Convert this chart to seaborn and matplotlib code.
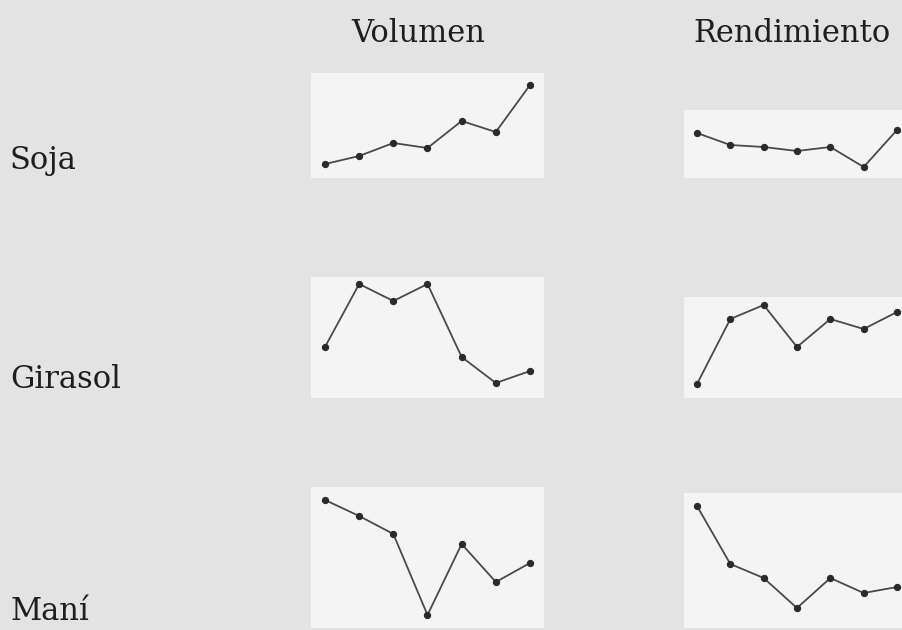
import numpy as np
import pandas as pd
import matplotlib
matplotlib.use("Agg")
import matplotlib.pyplot as plt
import seaborn as sns

# Data (arbitrary units per row)
periods = [1, 2, 3, 4, 5, 6, 7]
crops = ["Soja", "Girasol", "Maní"]
measures = ["Volumen", "Rendimiento"]

soja_volumen = [14, 22, 35, 30, 57, 46, 93]
soja_rendimiento = [45, 33, 31, 27, 31, 11, 48]
girasol_volumen = [51, 114, 97, 114, 41, 15, 27]
girasol_rendimiento = [14, 79, 93, 51, 79, 69, 86]
mani_volumen = [128, 112, 94, 13, 84, 46, 65]
mani_rendimiento = [122, 64, 50, 20, 50, 35, 41]

series = {
    ("Soja", "Volumen"): soja_volumen,
    ("Soja", "Rendimiento"): soja_rendimiento,
    ("Girasol", "Volumen"): girasol_volumen,
    ("Girasol", "Rendimiento"): girasol_rendimiento,
    ("Maní", "Volumen"): mani_volumen,
    ("Maní", "Rendimiento"): mani_rendimiento,
}

rows = []
for (c, m), vals in series.items():
    for p, v in zip(periods, vals):
        rows.append({"cultivo": c, "medida": m, "periodo": p, "valor": v})
df = pd.DataFrame(rows)

sns.set_style("white")
plt.rcParams['font.family'] = ['DejaVu Serif', 'Liberation Serif']

W, H = 903, 630
fig = plt.figure(figsize=(W / 100, H / 100), dpi=100)
fig.patch.set_facecolor("#e3e3e3")

# panel geometry in pixels
col_geom = {"Volumen": (325, 530), "Rendimiento": (697, 897)}
row_base = {"Soja": 178, "Girasol": 398, "Maní": 628}
panel_top = {
    ("Soja", "Volumen"): 73, ("Soja", "Rendimiento"): 110,
    ("Girasol", "Volumen"): 277, ("Girasol", "Rendimiento"): 297,
    ("Maní", "Volumen"): 487, ("Maní", "Rendimiento"): 493,
}
pad = 0.4

for c in crops:
    b = row_base[c]
    for m in measures:
        t = panel_top[(c, m)]
        x0, x1 = col_geom[m]
        step = (x1 - x0) / 6
        left = x0 - pad * step
        width = (6 + 2 * pad) * step
        ax = fig.add_axes([left / W, 1 - b / H, width / W, (b - t) / H])
        ax.set_facecolor("#f4f4f4")
        sub = df[(df.cultivo == c) & (df.medida == m)]
        sns.lineplot(data=sub, x="periodo", y="valor", ax=ax, color="#4a4a4a",
                     linewidth=1.3, marker="o", markersize=4.5,
                     markerfacecolor="#2a2a2a", markeredgecolor="#2a2a2a")
        ax.set_xlim(1 - pad, 7 + pad)
        ax.set_ylim(0, b - t)
        ax.set_xticks([])
        ax.set_yticks([])
        ax.set_xlabel("")
        ax.set_ylabel("")
        for s in ax.spines.values():
            s.set_visible(False)
        for ln in ax.lines:
            ln.set_clip_on(False)

# Column headers
fig.text(418 / W, 1 - 34 / H, "Volumen", ha="center", va="center",
         fontsize=22, color="#1e1e1e")
fig.text(792 / W, 1 - 34 / H, "Rendimiento", ha="center", va="center",
         fontsize=22, color="#1e1e1e")

# Row labels
label_y = {"Soja": 161, "Girasol": 380, "Maní": 611}
for c in crops:
    fig.text(10 / W, 1 - label_y[c] / H, c, ha="left", va="center",
             fontsize=22, color="#1e1e1e")

fig.savefig("out.png", dpi=100, facecolor=fig.get_facecolor())
